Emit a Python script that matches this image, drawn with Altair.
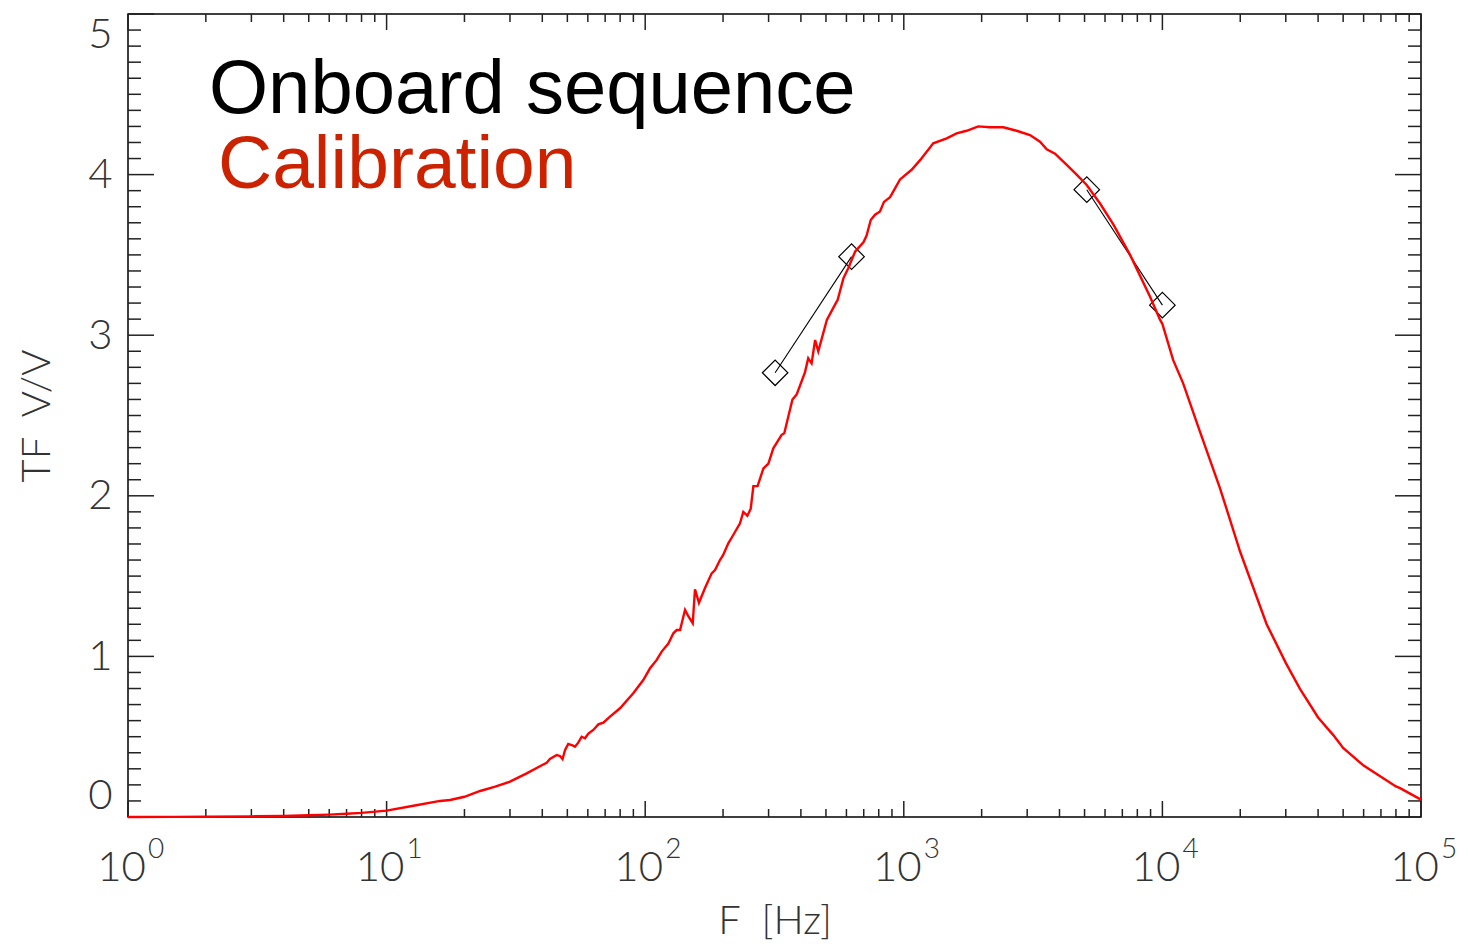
import altair as alt
import pandas as pd

# ---------------- data ----------------
CAL_F = [1, 1.5, 2, 3, 4, 5, 6, 7, 8, 10, 12.7, 16.1, 17.6, 20, 23, 26.3, 30, 34.8,
         40.0, 41.6, 42.8, 45.5, 46.8, 47.9, 49.0, 50.4, 52.0, 53.5, 55.1, 56.8, 58.5,
         60.3, 63.0, 65.9, 68.9, 73.1, 79.9, 89.9, 98.3, 104.4, 110.8, 115.8, 122.9,
         128.5, 132.4, 136.4, 142.6, 146.8, 152.7, 155.8, 161.4, 170.3, 180.7, 186.2,
         194.6, 200, 209.6, 219, 232.6, 239.5, 248.4, 255.9, 262, 272, 286.5, 299.5,
         312.9, 337, 345, 371, 385, 415, 427, 440, 454, 467, 504, 542, 555, 584, 611,
         648, 699, 718, 745, 774, 809, 838, 885, 967, 1072, 1156, 1300, 1465, 1600,
         1750, 1940, 2153, 2425, 2730, 3076, 3363, 3570, 3846, 4266, 4660, 5097, 5740,
         6460, 7500, 8960, 9800, 10000, 11000, 12030, 13970, 16680, 20000, 25300,
         30000, 34000, 40000, 45800, 50000, 60000, 70000, 80000, 83000, 100000]
CAL_TF = [0.000, 0.001, 0.002, 0.004, 0.007, 0.011, 0.015, 0.020, 0.026, 0.040, 0.070,
          0.100, 0.106, 0.126, 0.162, 0.189, 0.220, 0.272,
          0.324, 0.338, 0.361, 0.386, 0.380, 0.361, 0.417, 0.455, 0.448, 0.438, 0.463,
          0.500, 0.490, 0.520, 0.542, 0.577, 0.587, 0.625, 0.677, 0.770, 0.853, 0.926,
          0.978, 1.030, 1.080, 1.144, 1.164, 1.164, 1.290, 1.250, 1.206, 1.418, 1.334,
          1.426, 1.517, 1.538, 1.600, 1.630, 1.704, 1.756, 1.829, 1.900, 1.876, 1.920,
          2.060, 2.060, 2.170, 2.200, 2.296, 2.380, 2.390, 2.600, 2.630, 2.770, 2.856,
          2.825, 2.970, 2.900, 3.095, 3.190, 3.220, 3.354, 3.420, 3.520, 3.580, 3.620,
          3.717, 3.750, 3.770, 3.830, 3.860, 3.970, 4.030, 4.090, 4.195, 4.226, 4.257,
          4.273, 4.300, 4.295, 4.295, 4.273, 4.246, 4.205, 4.157, 4.130, 4.060, 4.000,
          3.935, 3.820, 3.690, 3.500, 3.240, 3.095, 3.070, 2.846, 2.700, 2.400, 2.050,
          1.650, 1.200, 0.960, 0.800, 0.620, 0.510, 0.430, 0.320, 0.250, 0.190, 0.180,
          0.108]

ONB_F = [318, 628, 5100, 10000]
ONB_TF = [2.766, 3.489, 3.906, 3.187]
ONB_GROUP = ["a", "a", "b", "b"]

DECADES = [1, 10, 100, 1000, 10000, 100000]
EXPONENTS = ["0", "1", "2", "3", "4", "5"]
Y_MAJOR = [0, 1, 2, 3, 4, 5]
LEGEND_TEXT = ["Onboard sequence", "Calibration"]
X_TITLE = "F\u00a0\u00a0[Hz]"
Y_TITLE = "TF\u00a0\u00a0V/V"

# tick positions (axis decoration)
X_MINOR = [d * m for d in DECADES[:-1] for m in range(2, 10)]
Y_MINOR = [round(i * 0.1, 1) for i in range(51) if i % 10]

# ---------------- layout ----------------
W, H = 1293, 803
LABEL_COLOR = "#333333"
TICK_COLOR = "#222222"

x_scale = alt.Scale(type="log", domain=[1, 100000], nice=False)
y_scale = alt.Scale(domain=[0, 5], nice=False, zero=False)

x_axis = alt.Axis(values=DECADES, labelExpr="'10'", labelFont="Lato", labelFontSize=42,
                  labelFontWeight=300, labelColor=LABEL_COLOR, labelPadding=63,
                  labelBaseline="alphabetic", labelOffset=-7, labelFlush=False,
                  labelOverlap=False, ticks=False, tickSize=0, domain=False, grid=False,
                  title=X_TITLE, titleFont="Lato", titleFontSize=40, titleFontWeight=300,
                  titleColor=LABEL_COLOR, titleBaseline="alphabetic", titleY=116,
                  titleX=W / 2)
y_axis = alt.Axis(values=Y_MAJOR, labelFont="Lato", labelFontSize=42, labelFontWeight=300,
                  labelColor=LABEL_COLOR, labelPadding=16, labelFlush=True,
                  labelOverlap=False, ticks=False, tickSize=0, domain=False, grid=False,
                  title=Y_TITLE, titleFont="Lato", titleFontSize=40, titleFontWeight=300,
                  titleColor=LABEL_COLOR, titleBaseline="alphabetic", titleAngle=270,
                  titleX=-79, titleY=H / 2)


def X(field):
    return alt.X(field, scale=x_scale, axis=x_axis)


def Y(field):
    return alt.Y(field, scale=y_scale, axis=y_axis)


cal_df = pd.DataFrame({"f": CAL_F, "tf": CAL_TF})
onb_df = pd.DataFrame({"f": ONB_F, "tf": ONB_TF, "g": ONB_GROUP})

onb_line = alt.Chart(onb_df).mark_line(color="black", strokeWidth=1.1).encode(
    x=X("f:Q"), y=Y("tf:Q"), detail="g:N")
onb_pts = alt.Chart(onb_df).mark_point(shape="diamond", filled=False, color="black",
                                       size=650, strokeWidth=1.2, opacity=1).encode(
    x=X("f:Q"), y=Y("tf:Q"))
cal_line = alt.Chart(cal_df).mark_line(color="#ff0000", strokeWidth=2.4).encode(
    x=X("f:Q"), y=Y("tf:Q"))

sup_df = pd.DataFrame({"f": DECADES, "e": EXPONENTS})
sup = alt.Chart(sup_df).mark_text(font="Lato", fontSize=28, fontWeight=300,
                                  color=LABEL_COLOR, align="left", baseline="alphabetic",
                                  dx=20).encode(
    x=X("f:Q"), y=alt.value(H + 41), text="e:N")


def xticks(vals, y0, y1):
    return alt.Chart(pd.DataFrame({"f": vals})).mark_rule(
        color=TICK_COLOR, strokeWidth=1.5).encode(
        x=X("f:Q"), y=alt.value(y0), y2=alt.value(y1))


def yticks(vals, x0, x1):
    return alt.Chart(pd.DataFrame({"v": vals})).mark_rule(
        color=TICK_COLOR, strokeWidth=1.5).encode(
        y=Y("v:Q"), x=alt.value(x0), x2=alt.value(x1))


tick_layers = [
    xticks(DECADES, H, H - 16), xticks(X_MINOR, H, H - 8),
    xticks(DECADES, 0, 16), xticks(X_MINOR, 0, 8),
    yticks(Y_MAJOR, 0, 26), yticks(Y_MINOR, 0, 13),
    yticks(Y_MAJOR, W, W - 26), yticks(Y_MINOR, W, W - 13),
]

leg1 = alt.Chart(pd.DataFrame({"t": [LEGEND_TEXT[0]]})).mark_text(
    font="Liberation Sans", fontSize=76, color="#000000", align="left",
    baseline="alphabetic").encode(x=alt.value(81), y=alt.value(99), text="t:N")
leg2 = alt.Chart(pd.DataFrame({"t": [LEGEND_TEXT[1]]})).mark_text(
    font="Liberation Sans", fontSize=75, color="#cc2200", align="left",
    baseline="alphabetic").encode(x=alt.value(90), y=alt.value(174), text="t:N")

chart = alt.layer(onb_line, *tick_layers, onb_pts, cal_line, sup, leg1, leg2).properties(
    width=W, height=H,
    autosize=alt.AutoSizeParams(type="none"),
    padding={"left": 128, "top": 14, "right": 47, "bottom": 127},
).configure_view(stroke="#000000", strokeWidth=1.5)

chart.save("out.html", embed_options={"renderer": "svg", "actions": False})
